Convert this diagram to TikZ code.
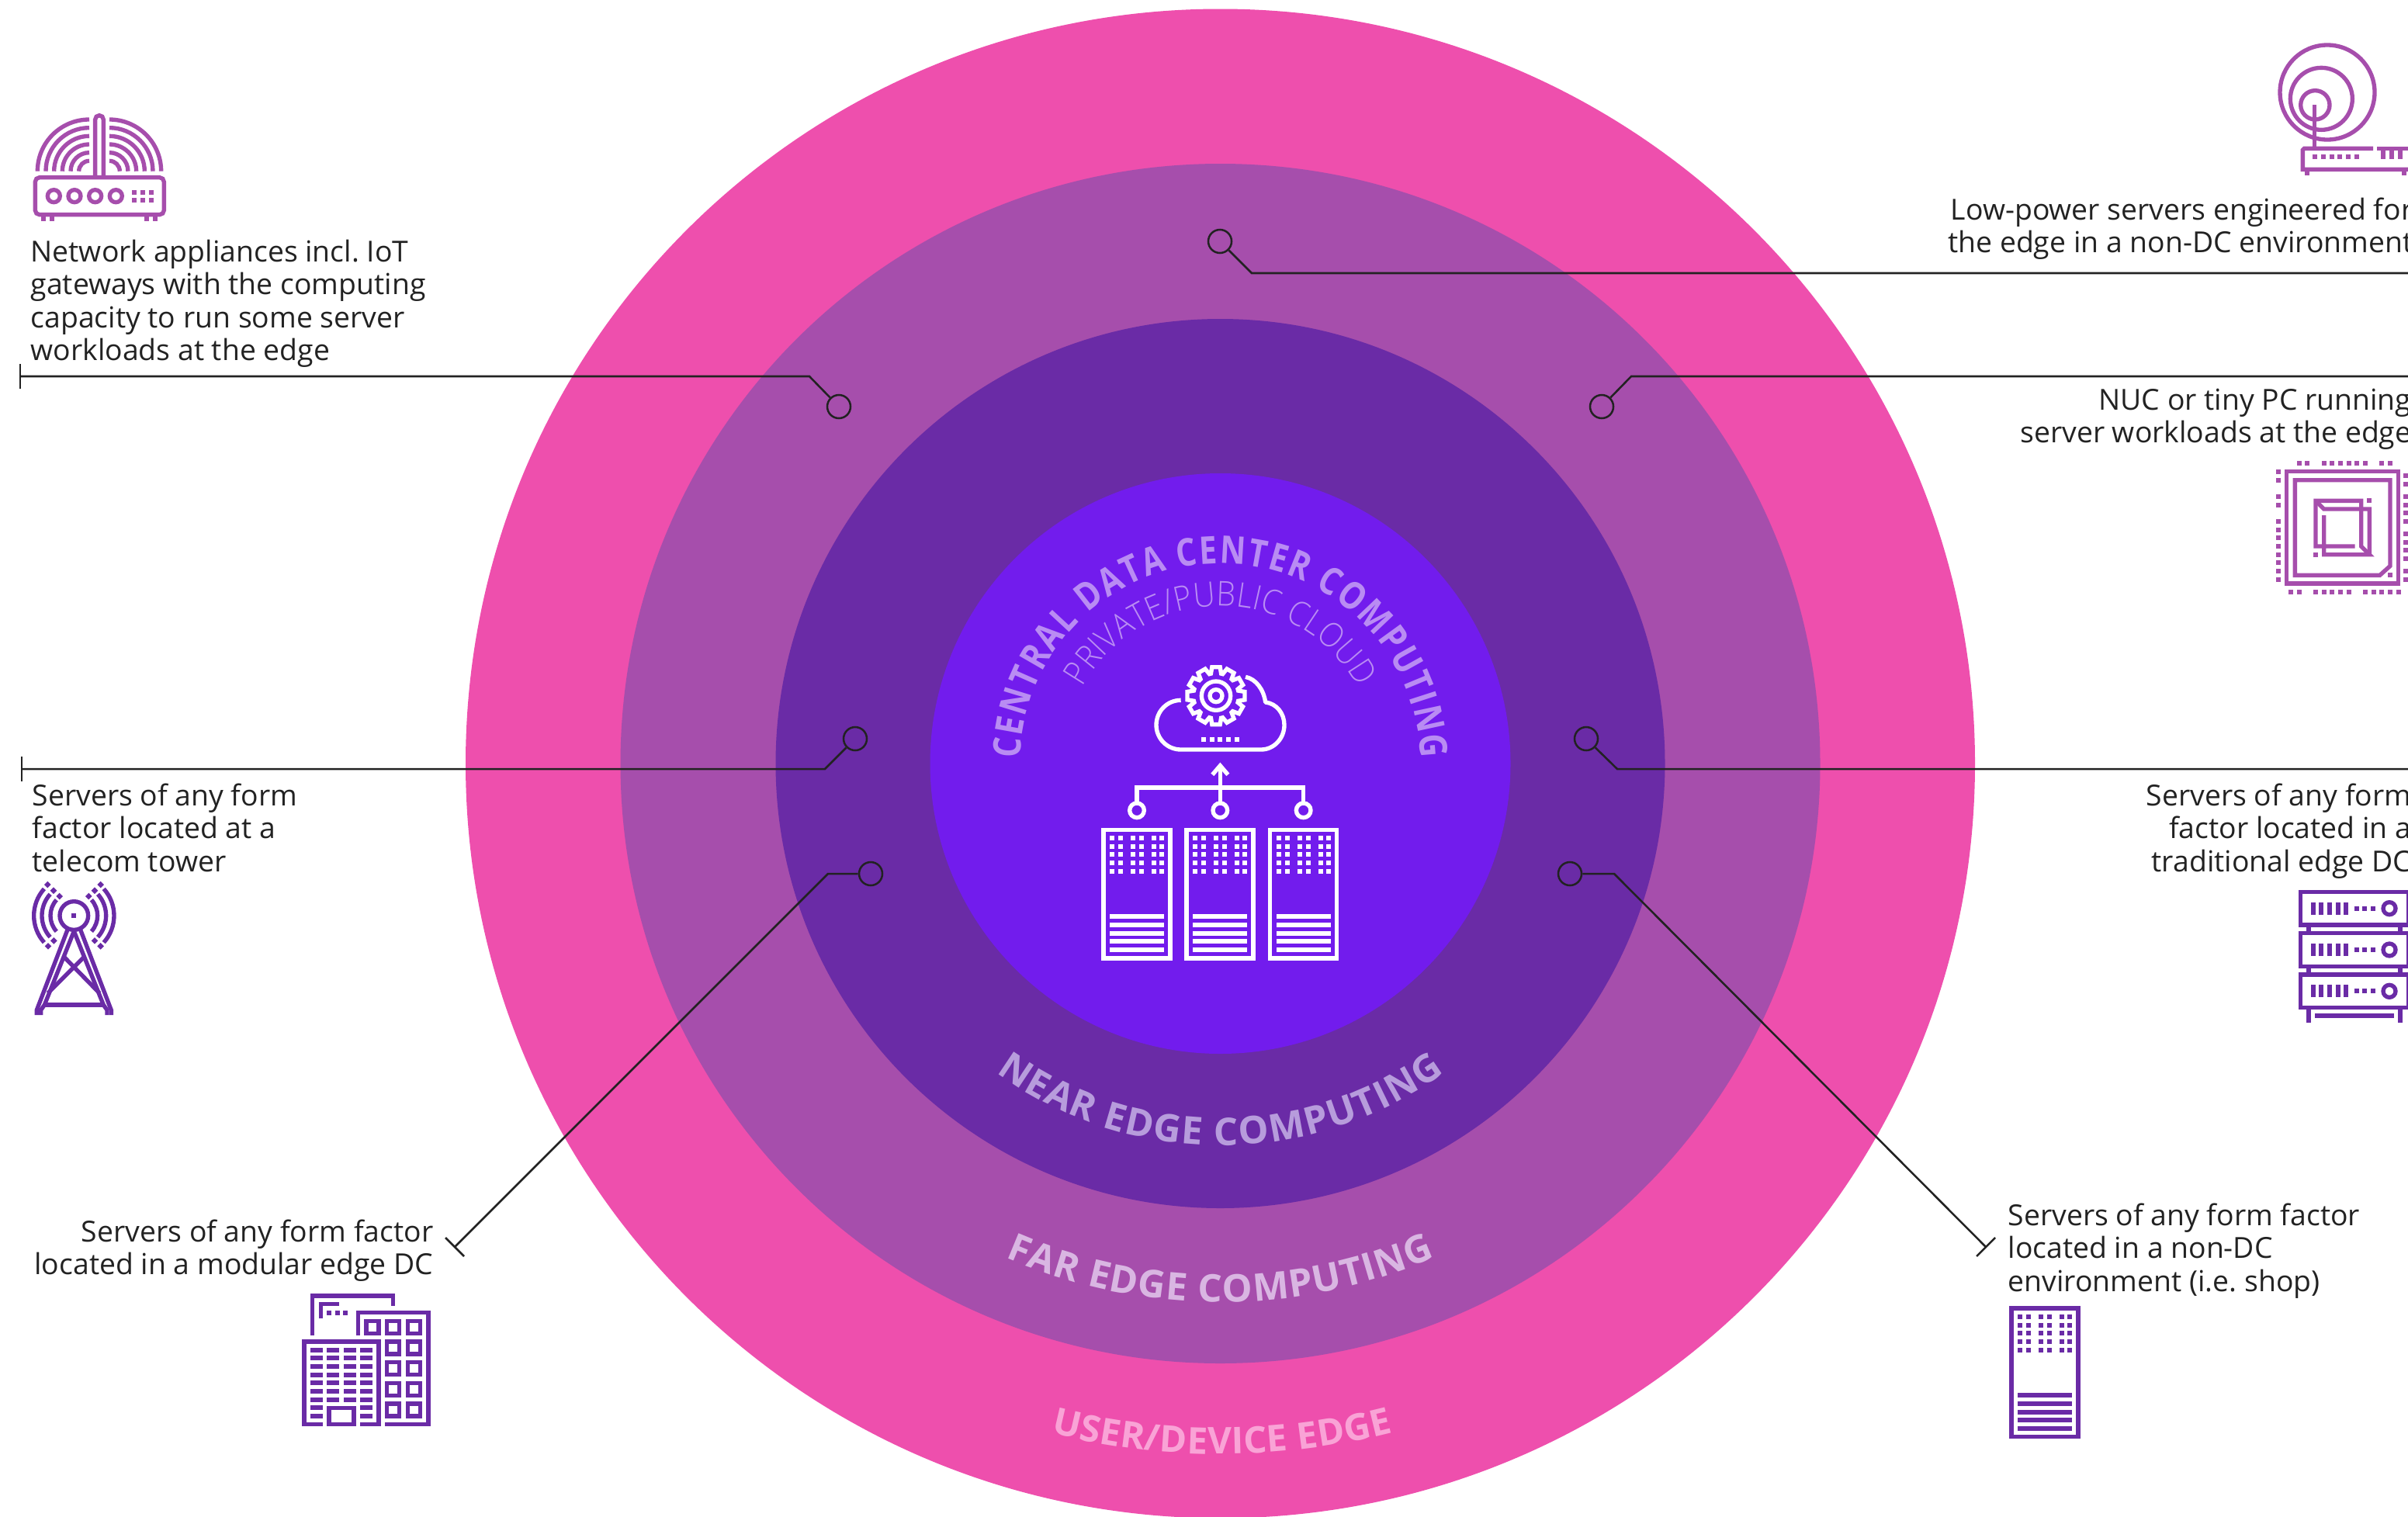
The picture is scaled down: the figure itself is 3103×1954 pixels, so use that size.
\documentclass[tikz,border=0pt]{standalone}
\usepackage{fontspec}
\usetikzlibrary{decorations.text}
\setmainfont{Open Sans}
\newfontfamily\oslight[FakeStretch=0.89]{Open Sans Light}
\newfontfamily\osnarrow[FakeStretch=0.83]{Open Sans}
\definecolor{cOuter}{HTML}{EE4FAD}
\definecolor{cFar}{HTML}{A64EAC}
\definecolor{cNear}{HTML}{6A2BA6}
\definecolor{cCore}{HTML}{721CED}
\definecolor{tCore}{HTML}{B98CF3}
\definecolor{tNear}{HTML}{B79CDC}
\definecolor{tFar}{HTML}{D9B6E2}
\definecolor{tUser}{HTML}{F9A3D6}
\definecolor{cInk}{HTML}{222222}
\newcommand\tcentral{\color{tCore}\fontsize{14pt}{14pt}\osnarrow\bfseries\selectfont}
\newcommand\tcloud{\color{tCore}\fontsize{12.5pt}{12.5pt}\oslight\selectfont}
\newcommand\tnear{\color{tNear}\fontsize{14pt}{14pt}\bfseries\selectfont}
\newcommand\tfar{\color{tFar}\fontsize{14pt}{14pt}\bfseries\selectfont}
\newcommand\tuser{\color{tUser}\fontsize{13.5pt}{13.5pt}\bfseries\selectfont}
\newcommand\sqr[2]{\fill (#1-9,#2-9) rectangle ++(18,18);}
\newcommand\srvbody{%
  \draw (96,78) rectangle (354,575);
  \foreach \a in {129,162,210,243,291,321}{\foreach \b in {111,144,174,207,240}{\sqr{\a}{\b}}}
  \foreach \b in {414,447,480,510,543}{\fill (120,\b-9) rectangle (330,\b+9);}
}
\tikzset{
  edgeline/.style={draw=cInk,line width=0.72pt},
  hub/.style={circle,draw=cInk,line width=0.72pt,minimum size=0.3cm,inner sep=0pt},
  note/.style={inner sep=0pt,text=cInk,font=\fontsize{10.62pt}{12.09pt}\selectfont\frenchspacing},
  icon/.style={shift={#1},scale=1/3,line width=1.52pt},
  iconA/.style={icon={#1},draw=cFar,fill=cFar},
  iconB/.style={icon={#1},draw=cNear,fill=cNear},
  iconW/.style={icon={#1},draw=white,fill=white},
}
\begin{document}
\begin{tikzpicture}[x=0.01cm,y=-0.01cm]
\useasboundingbox (0,0) rectangle (3103,1954);
\coordinate (C) at (1572.5,984);
% rings
\fill[cOuter] (C) circle (972.5);
\fill[cFar] (C) circle (773);
\fill[cNear] (C) circle (573);
\fill[cCore] (C) circle (374);
% curved titles
\path[decorate,decoration={text along path,text align={fit to path},text={|\tcentral|CENTRAL DATA CENTER COMPUTING}}]
  ([shift={(C)}]181.5:258) arc (181.5:358.5:258);
\path[decorate,decoration={text along path,text align={fit to path},text={|\tcloud|PRIVATE/PUBLIC CLOUD}}]
  ([shift={(C)}]209:203) arc (209:331:203);
\path[decorate,decoration={text along path,text align={fit to path},text={|\tnear|NEAR EDGE COMPUTING}}]
  ([shift={(C)}]126:492) arc (126:54:492);
\path[decorate,decoration={text along path,text align={fit to path},text={|\tfar|FAR EDGE COMPUTING}}]
  ([shift={(C)}]113.5:694) arc (113.5:66.5:694);
\path[decorate,decoration={text along path,text align={fit to path},text={|\tuser|USER/DEVICE EDGE}}]
  ([shift={(C)}]104.2:890) arc (104.2:75.5:890);
% connectors
\node[hub] (h1) at (1572,311) {};
\coordinate (k1) at (1613,352); \coordinate (e1) at (3103,352);
\draw[edgeline] (h1) -- (k1) -- (e1);
\node[hub] (h2) at (1081,524) {};
\coordinate (k2) at (1043,485); \coordinate (e2) at (26,485);
\coordinate (e2a) at (26,469); \coordinate (e2b) at (26,501);
\draw[edgeline] (h2) -- (k2) -- (e2); \draw[edgeline] (e2a) -- (e2b);
\node[hub] (h3) at (2064,524) {};
\coordinate (k3) at (2102,485); \coordinate (e3) at (3103,485);
\draw[edgeline] (h3) -- (k3) -- (e3);
\node[hub] (h4) at (1102,952) {};
\coordinate (k4) at (1063,991); \coordinate (e4) at (28,991);
\coordinate (e4a) at (28,975); \coordinate (e4b) at (28,1007);
\draw[edgeline] (h4) -- (k4) -- (e4); \draw[edgeline] (e4a) -- (e4b);
\node[hub] (h5) at (2044,952) {};
\coordinate (k5) at (2084,991); \coordinate (e5) at (3103,991);
\draw[edgeline] (h5) -- (k5) -- (e5);
\node[hub] (h6) at (1122,1126) {};
\coordinate (k6) at (1067,1126); \coordinate (e6) at (586,1607);
\coordinate (e6a) at (574,1595); \coordinate (e6b) at (598,1619);
\draw[edgeline] (h6) -- (k6) -- (e6); \draw[edgeline] (e6a) -- (e6b);
\node[hub] (h7) at (2023,1126) {};
\coordinate (k7) at (2080,1126); \coordinate (e7) at (2559,1607);
\coordinate (e7a) at (2547,1619); \coordinate (e7b) at (2571,1595);
\draw[edgeline] (h7) -- (k7) -- (e7); \draw[edgeline] (e7a) -- (e7b);
% labels
\node[note,anchor=north west,align=left] (n1) at (39,308) {Network appliances incl. IoT\\gateways with the computing\\capacity to run some server\\workloads at the edge};
\node[note,anchor=north east,align=right] (n2) at (3110,254) {Low-power servers engineered for\\the edge in a non-DC environment};
\node[note,anchor=north east,align=right] (n3) at (3108,500) {NUC or tiny PC running\\server workloads at the edge};
\node[note,anchor=north west,align=left] (n4) at (41,1009) {Servers of any form\\factor located at a\\telecom tower};
\node[note,anchor=north east,align=right] (n5) at (3108,1009) {Servers of any form\\factor located in a\\traditional edge DC};
\node[note,anchor=north east,align=right] (n6) at (559,1571) {Servers of any form factor\\located in a modular edge DC};
\node[note,anchor=north west,align=left] (n7) at (2587,1550) {Servers of any form factor\\located in a non-DC\\environment (i.e. shop)};
% router icon
\begin{scope}[iconA={(30,130)}]
  \foreach \r in {200,168,136,104,72,40}{\draw (255-\r,272) arc (180:270:\r) (333+\r,272) arc (0:-90:\r);}
  \draw (278,296) -- (278,72) arc (180:360:16) -- (310,296);
  \draw[rounded corners=1.6pt] (46,296) rectangle (544,440);
  \foreach \a in {118,198,278,358}{\draw (\a,368) circle (24);}
  \foreach \a in {429,462,495}{\foreach \b in {354,384}{\sqr{\a}{\b}}}
  \foreach \a in {78,110,477,509}{\fill (\a-9,445) rectangle (\a+9,465);}
\end{scope}
% dish icon
\begin{scope}[iconA={(2930,40)}]
  \draw (207,237) circle (183);
  \draw (184,262) circle (120);
  \draw (160,286) circle (56);
  \draw (158,285) -- (158,455);
  \draw (384,454) -- (118,454) -- (112,460) -- (112,535) -- (530,535);
  \draw (400,454) -- (530,454);
  \foreach \a in {129,504}{\fill (\a-9,540) rectangle (\a+9,558);}
  \foreach \a in {423,456,489}{\fill (\a-9,454) rectangle (\a+9,494);}
  \foreach \a in {159,192,225,255,288,321}{\sqr{\a}{486}}
\end{scope}
% chip icon
\begin{scope}[iconA={(2900,570)}]
  \draw (140,113) rectangle (572,546);
  \draw (172,146) -- (540,146) -- (540,478) -- (500,514) -- (172,514) -- cycle;
  \draw (404,402) -- (252,402) -- (252,226) -- (428,226) -- (428,402) -- (460,434) -- (284,434) -- (284,282);
  \draw (252,226) -- (284,258) -- (460,258) -- (460,434);
  \sqr{459}{225}\sqr{252}{435}\sqr{540}{513}
  \foreach \b in {114,147,210,243,306,339,369,402,435,465,498,531}{\sqr{108}{\b}}
  \foreach \a in {189,219,285,315,348,381,411,444,507,540}{\sqr{\a}{81}}
  \foreach \a in {156,189,252,285,315,348,381,444,477,507,540,573}{\sqr{\a}{579}}
  \foreach \b in {129,162,210,243,273,306,354,387,417,450,498,531}{\sqr{600}{\b}}
\end{scope}
% rack icon
\begin{scope}[iconB={(2900,1130)}]
  \foreach \o in {0,160,320}{
    \draw (194,58+\o) rectangle (612,186+\o);
    \foreach \a in {243,273,306,339,369}{\fill (\a-9,98+\o) rectangle (\a+9,146+\o);}
    \foreach \a in {411,441,474}{\sqr{\a}{122+\o}}
    \draw (537,122+\o) circle (24);
  }
  \foreach \a in {225,579}{
    \fill (\a-9,186) rectangle (\a+9,218);
    \fill (\a-9,346) rectangle (\a+9,378);
    \fill (\a-9,506) rectangle (\a+9,564);
  }
  \fill (249,528) rectangle (555,546);
\end{scope}
% tower icon
\begin{scope}[iconB={(0,1120)}]
  \draw (286,180) circle (55);
  \sqr{285}{180}
  \foreach \r in {91,124,155}{
    \draw ([shift={(286,180)}]138:\r) arc (138:222:\r);
    \draw ([shift={(286,180)}]-42:\r) arc (-42:42:\r);
  }
  \foreach \a/\b in {230/105,207/83,184/60,208/277,186/298,343/105,366/83,389/60,366/277,389/298}{
    \fill (\a,\b-13) -- (\a+13,\b) -- (\a,\b+13) -- (\a-13,\b) -- cycle;
  }
  \draw (262,232) -- (142,545) -- (142,564);
  \draw (310,232) -- (430,545) -- (430,564);
  \draw (286,240) -- (172,525) -- (158,545) -- (158,564);
  \draw (286,240) -- (400,525) -- (414,545) -- (414,564);
  \draw (325,340) -- (185,480);
  \draw (248,340) -- (385,480);
  \draw (172,525) -- (400,525);
\end{scope}
% building icon
\begin{scope}[iconB={(360,1640)}]
  \draw (128,242) -- (128,90) -- (440,90) -- (440,130);
  \draw (160,178) -- (160,122) -- (232,122);
  \sqr{192}{155}\sqr{224}{155}\sqr{255}{155}
  \draw (304,242) -- (304,155) -- (576,155) -- (576,587) -- (408,587);
  \draw (336,187) rectangle (384,235);
  \foreach \a in {440,520}{\foreach \b in {211,291,371,451,531}{\draw (\a-24,\b-24) rectangle (\a+24,\b+24);}}
  \draw (168,587) -- (96,587) -- (96,267) -- (384,267) -- (384,587) -- (312,587);
  \draw (192,587) -- (192,523) -- (288,523) -- (288,587) -- cycle;
  \foreach \a in {120,183,249,312}{\foreach \b in {300,330,363,396,426,459,492}{\fill (\a,\b-9) rectangle (\a+48,\b+9);}}
  \foreach \a in {120,312}{\foreach \b in {522,555}{\fill (\a,\b-9) rectangle (\a+48,\b+9);}}
\end{scope}
% single server icon
\begin{scope}[iconB={(2560,1660)}]
  \srvbody
\end{scope}
% central servers
\begin{scope}[iconW={(1380,840)}]
  \foreach \o in {30,351,674}{
    \begin{scope}[shift={(\o,610)}]\srvbody\end{scope}
  }
  \foreach \a in {255,577,899}{\draw (\a,613) circle (28);}
  \draw (255,585) -- (255,525) -- (899,525) -- (899,585);
  \draw (577,585) -- (577,435);
  \draw (547,475) -- (577,440) -- (607,475);
  \draw[line join=round] (425,187) .. controls (372,187) and (330,230) .. (330,283) .. controls (330,335) and (372,378) .. (425,378) -- (735,378) .. controls (785,378) and (825,335) .. (825,283) .. controls (825,238) and (795,200) .. (752,195) .. controls (745,145) and (715,105) .. (675,97);
  \foreach \a in {513,546,576,609,642}{\sqr{\a}{339}}
  \draw (561,170) circle (56);
  \draw (561,170) circle (24);
  \draw ([shift={(561,170)}]-13:88) \foreach \t in {0,30,...,330}{ -- ([shift={(561,170)}]\t-13:88) -- ([shift={(561,170)}]\t-8:112) -- ([shift={(561,170)}]\t+8:112) -- ([shift={(561,170)}]\t+13:88)} -- cycle;
\end{scope}
\end{tikzpicture}
\end{document}
